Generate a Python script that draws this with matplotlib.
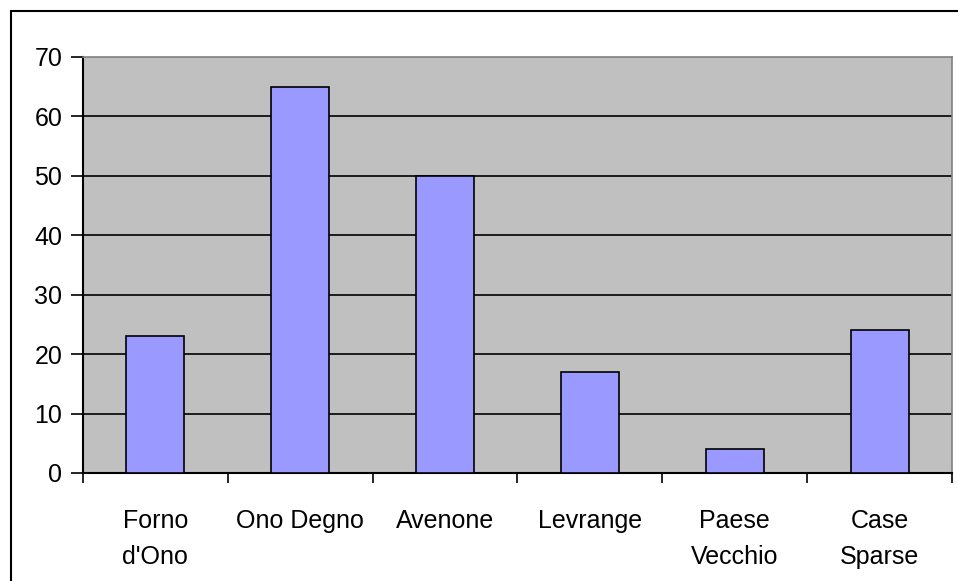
import matplotlib
matplotlib.use("Agg")
import matplotlib.pyplot as plt
from matplotlib.patches import Rectangle
import numpy as np

categories = ["Forno\nd'Ono", "Ono Degno", "Avenone", "Levrange", "Paese\nVecchio", "Case\nSparse"]
values = [23, 65, 50, 17, 4, 24]
yticks = [0, 10, 20, 30, 40, 50, 60, 70]

plt.rcParams['font.family'] = ['Liberation Sans', 'DejaVu Sans']

W, H = 958, 581
fig = plt.figure(figsize=(W/100, H/100), dpi=100)
fig.patch.set_facecolor('white')

# figure frame
fig.patches.append(Rectangle((10.5/W, -0.05), 1.2, 1 - 11/H + 0.05, transform=fig.transFigure,
                             fill=False, edgecolor='black', linewidth=1.5, zorder=0))

left, right, top, bottom = 83, 952, 57, 473
ax = fig.add_axes([left/W, 1 - bottom/H, (right-left)/W, (bottom-top)/H])
ax.set_facecolor('#C0C0C0')

x = np.arange(len(categories))
ax.bar(x, values, width=0.4, color='#9999FF', edgecolor='black', linewidth=1.2, zorder=3)

ax.set_xlim(-0.5, len(categories) - 0.5)
ax.set_ylim(0, 70)
ax.set_yticks(yticks)
ax.set_yticklabels([str(v) for v in yticks], fontsize=18)
for v in yticks[1:-1]:
    ax.axhline(v, color='black', linewidth=1.2, zorder=2)

ax.set_xticks(np.arange(len(categories) + 1) - 0.5, minor=False)
ax.set_xticklabels([])
ax.set_xticks(x, minor=True)
ax.set_xticklabels(categories, minor=True, fontsize=18, linespacing=1.6, va='top')
ax.tick_params(axis='x', which='major', direction='out', length=7, width=1.2, color='black')
ax.tick_params(axis='x', which='minor', length=0, pad=26)
ax.tick_params(axis='y', direction='out', length=9, width=1.2, pad=6, color='black')

ax.spines['left'].set_color('black')
ax.spines['left'].set_linewidth(1.5)
ax.spines['bottom'].set_color('black')
ax.spines['bottom'].set_linewidth(1.5)
ax.spines['top'].set_color('#808080')
ax.spines['top'].set_linewidth(1.2)
ax.spines['right'].set_color('#808080')
ax.spines['right'].set_linewidth(1.2)

fig.savefig('out.png', dpi=100)
